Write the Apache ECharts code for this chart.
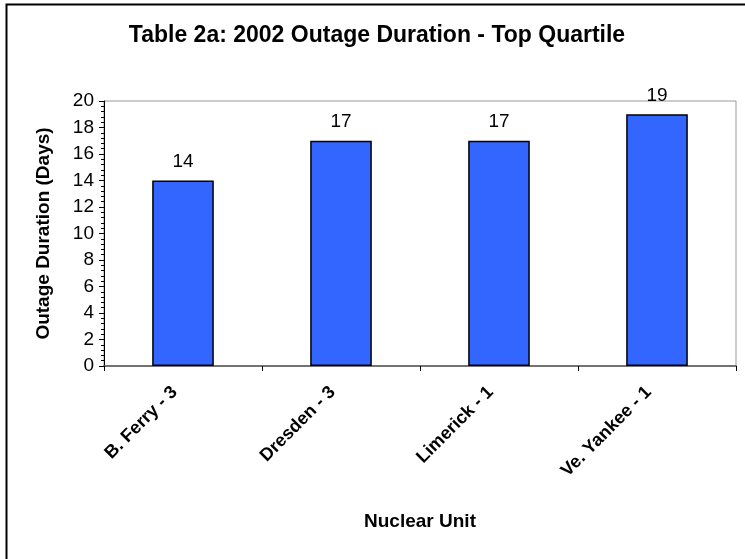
<!DOCTYPE html>
<html style="height: 100%">
<head>
  <meta charset="utf-8">
  <title>Table 2a: 2002 Outage Duration - Top Quartile</title>
  <script src="https://cdn.jsdelivr.net/npm/echarts@6/dist/echarts.min.js"></script>
</head>
<body style="margin: 0; height: 100%; background: #fff">
  <div id="main" style="width: 745px; height: 559px"></div>
  <script>
    const units = ['B. Ferry - 3', 'Dresden - 3', 'Limerick - 1', 'Ve. Yankee - 1'];
    const durationDays = [14, 17, 17, 19];
    const yTicks = { min: 0, max: 20, interval: 2 };

    const chart = echarts.init(document.getElementById('main'));
    const font = 'Arial, "Liberation Sans", sans-serif';

    chart.setOption({
      animation: false,
      backgroundColor: '#fff',
      textStyle: { fontFamily: font, color: '#000' },
      // outer frame, runs off the right and bottom edge like the source
      graphic: [{
        type: 'rect',
        shape: { x: 6.5, y: 4.5, width: 800, height: 600 },
        style: { fill: null, stroke: '#000', lineWidth: 2 }
      }],
      title: {
        text: 'Table 2a: 2002 Outage Duration - Top Quartile',
        left: 372,
        textAlign: 'center',
        top: 19,
        textStyle: { fontSize: 23, fontWeight: 'bold', color: '#000', fontFamily: font }
      },
      grid: { left: 104, right: 9, top: 101, bottom: 193, show: true, borderColor: '#999', borderWidth: 1 },
      xAxis: {
        type: 'category',
        data: units,
        name: 'Nuclear Unit',
        nameLocation: 'middle',
        nameGap: 146,
        nameTextStyle: { fontSize: 19, fontWeight: 'bold', color: '#000' },
        axisLine: { lineStyle: { color: '#555', width: 1.5 } },
        axisTick: { show: true, length: 5, lineStyle: { color: '#000' } },
        axisLabel: { rotate: 45, fontSize: 18, fontWeight: 'bold', color: '#000', margin: 15, padding: [0, 12, 0, 0], interval: 0 }
      },
      yAxis: {
        type: 'value',
        min: yTicks.min,
        max: yTicks.max,
        interval: yTicks.interval,
        name: 'Outage Duration (Days)',
        nameLocation: 'middle',
        nameGap: 51,
        nameTextStyle: { fontSize: 19, fontWeight: 'bold', color: '#000' },
        axisLine: { show: true, lineStyle: { color: '#000', width: 1 } },
        axisTick: { show: true, length: 5, lineStyle: { color: '#000' } },
        minorTick: { show: true, splitNumber: 5, length: 3, lineStyle: { color: '#000' } },
        splitLine: { show: false },
        axisLabel: { fontSize: 19, color: '#000', margin: 10 }
      },
      series: [{
        type: 'bar',
        data: durationDays,
        barWidth: '39%',
        itemStyle: { color: '#3366FF', borderColor: '#000', borderWidth: 1.5 },
        label: { show: true, position: 'top', distance: 9, fontSize: 19, color: '#000' }
      }]
    });
  </script>
</body>
</html>
